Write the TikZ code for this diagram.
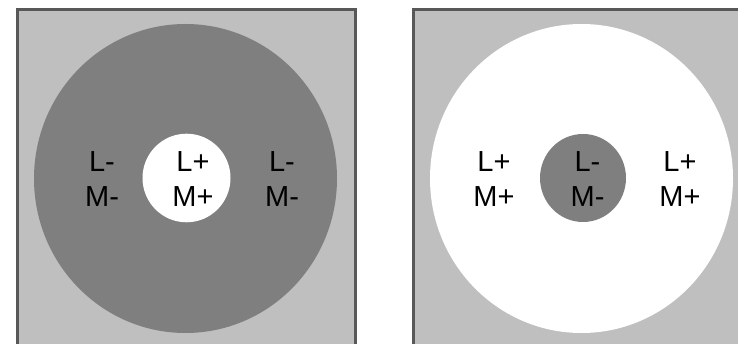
\documentclass[tikz,border=0pt]{standalone}
\usepackage{fontspec}
\setmainfont{Liberation Sans}
\definecolor{lightg}{HTML}{BFBFBF}
\definecolor{darkg}{HTML}{7F7F7F}
\definecolor{frameg}{HTML}{585858}
\tikzset{
  panel/.style={draw=frameg, line width=3pt, fill=lightg},
  lbl/.style={anchor=base, inner sep=0pt, font=\fontsize{29}{29}\selectfont, text=black}
}
\begin{document}
\begin{tikzpicture}[x=1pt,y=-1pt]
\useasboundingbox (0,0) rectangle (738,344);
\begin{scope}
\clip (0,0) rectangle (738,344);
% left panel
\path[panel] (17.5,9.5) rectangle (355.5,360);
\fill[darkg] (185.5,178.5) ellipse [x radius=151.5, y radius=154.5];
\fill[white] (186.5,178) ellipse [x radius=44, y radius=44.3];
% right panel
\path[panel] (413,9.5) rectangle (751,360);
\fill[white] (581.5,178.5) ellipse [x radius=151.5, y radius=154.5];
\fill[darkg] (583,178) ellipse [x radius=43, y radius=44];
\end{scope}
% left labels
\node[lbl] (a1) at (102,172) {L-};
\node[lbl] (a2) at (102,207) {M-};
\node[lbl] (b1) at (193,172) {L+};
\node[lbl] (b2) at (193,207) {M+};
\node[lbl] (c1) at (282,172) {L-};
\node[lbl] (c2) at (282,207) {M-};
% right labels
\node[lbl] (d1) at (494,172) {L+};
\node[lbl] (d2) at (494,207) {M+};
\node[lbl] (e1) at (587.5,172) {L-};
\node[lbl] (e2) at (587.5,207) {M-};
\node[lbl] (f1) at (680,172) {L+};
\node[lbl] (f2) at (680,207) {M+};
\end{tikzpicture}
\end{document}
